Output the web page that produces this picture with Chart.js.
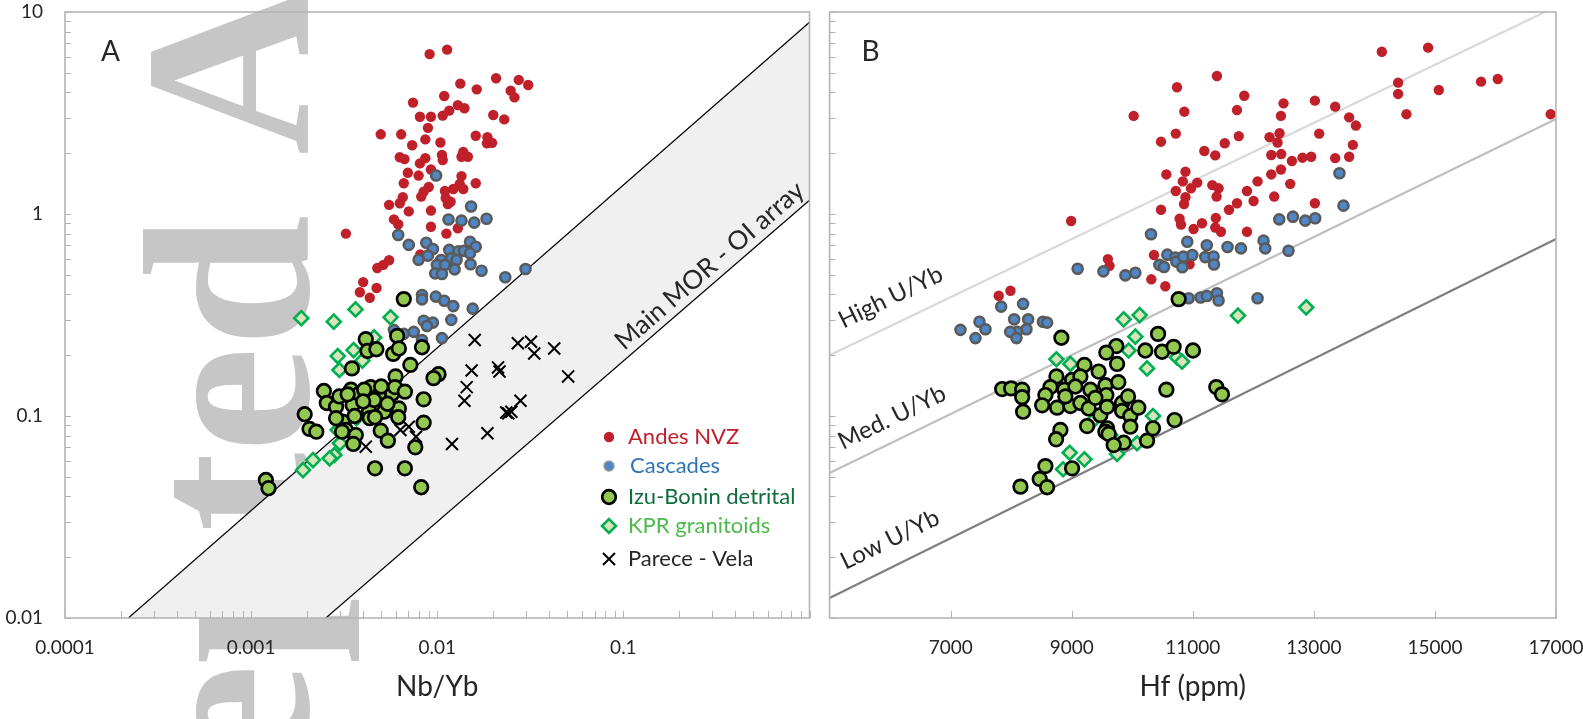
<!DOCTYPE html>
<html><head><meta charset="utf-8">
<script src="https://cdn.jsdelivr.net/npm/chart.js@4.4.1/dist/chart.umd.min.js"></script>
<style>
html,body{margin:0;padding:0;background:#fff;overflow:hidden;}
#wa{position:absolute;left:0;top:0;width:820px;height:719px;}
#wb{position:absolute;left:820px;top:0;width:763px;height:719px;}
</style></head><body>
<div id="wa"><canvas id="ca"></canvas></div>
<div id="wb"><canvas id="cb"></canvas></div>
<script>
// ---------------- DATA: panel A (Nb/Yb vs U/Yb) ----------------
const andesA = [[0.0091,6.19],[0.0113,6.51],[0.0133,4.42],[0.0163,4.14],[0.0207,4.70],[0.0274,4.61],[0.0308,4.35],[0.0248,4.08],[0.0260,3.78],[0.00741,3.56],[0.0109,3.84],[0.0129,3.46],[0.0140,3.34],[0.0116,3.25],[0.0107,3.07],[0.00807,3.03],[0.00925,3.03],[0.0200,3.09],[0.0229,2.94],[0.00891,2.67],[0.00497,2.48],[0.00640,2.48],[0.00863,2.34],[0.0104,2.26],[0.0161,2.44],[0.0186,2.40],[0.0197,2.25],[0.0185,2.24],[0.00733,2.19],[0.00629,1.91],[0.00667,1.87],[0.00863,1.89],[0.00807,1.78],[0.0106,1.96],[0.0107,1.85],[0.0138,2.03],[0.0135,1.92],[0.0146,1.92],[0.00925,1.66],[0.00695,1.60],[0.00794,1.55],[0.0135,1.54],[0.00661,1.42],[0.0090,1.36],[0.00845,1.29],[0.0082,1.22],[0.0110,1.30],[0.0122,1.33],[0.0132,1.41],[0.0138,1.33],[0.0161,1.42],[0.0111,1.20],[0.0118,1.15],[0.00653,1.21],[0.00629,1.13],[0.00551,1.11],[0.00703,1.03],[0.00925,1.04],[0.0114,1.12],[0.00585,0.94],[0.00617,0.89],[0.00925,0.865],[0.0129,0.85],[0.0112,0.80],[0.00323,0.80],[0.00551,0.59],[0.00513,0.56],[0.00476,0.54],[0.00400,0.46],[0.00472,0.43],[0.00384,0.41],[0.00434,0.385],[0.0081,0.63]];
const cascadesA = [[0.00986,1.55],[0.0152,1.09],[0.0115,0.94],[0.0135,0.927],[0.0158,0.906],[0.0184,0.948],[0.00617,0.787],[0.00703,0.703],[0.00873,0.721],[0.00948,0.671],[0.0116,0.664],[0.0130,0.654],[0.0139,0.657],[0.0150,0.729],[0.0161,0.689],[0.00891,0.622],[0.00794,0.594],[0.0105,0.592],[0.0119,0.604],[0.0127,0.592],[0.0150,0.639],[0.00995,0.560],[0.0110,0.560],[0.00975,0.508],[0.0106,0.505],[0.0124,0.532],[0.0151,0.564],[0.0173,0.524],[0.0232,0.486],[0.0298,0.534],[0.00828,0.397],[0.00828,0.378],[0.00982,0.390],[0.0109,0.372],[0.0122,0.350],[0.0155,0.340],[0.0119,0.299],[0.00845,0.296],[0.00948,0.290],[0.0088,0.279],[0.00748,0.261],[0.0106,0.243],[0.00661,0.255],[0.00585,0.267],[0.00828,0.238]];
const izuA = [[0.00661,0.379],[0.00609,0.249],[0.00413,0.240],[0.00422,0.210],[0.00471,0.214],[0.00580,0.203],[0.00622,0.216],[0.00828,0.219],[0.00348,0.172],[0.00717,0.179],[0.01016,0.161],[0.00955,0.154],[0.00597,0.157],[0.00246,0.133],[0.00255,0.116],[0.00286,0.111],[0.00298,0.125],[0.00344,0.135],[0.00381,0.129],[0.00439,0.139],[0.00487,0.127],[0.00573,0.129],[0.00593,0.139],[0.00670,0.132],[0.00845,0.121],[0.00351,0.113],[0.00430,0.106],[0.00518,0.105],[0.00622,0.109],[0.00194,0.102],[0.00206,0.0863],[0.00224,0.0836],[0.00310,0.0938],[0.00323,0.0853],[0.00308,0.0836],[0.00365,0.0805],[0.00434,0.0975],[0.00463,0.0986],[0.00497,0.0846],[0.00543,0.0755],[0.00617,0.0986],[0.00845,0.0927],[0.00354,0.0727],[0.00762,0.0700],[0.00463,0.0551],[0.00670,0.0551],[0.0082,0.0444],[0.00120,0.0482],[0.00124,0.0439],[0.00405,0.135],[0.00286,0.0975],[0.00458,0.120],[0.00330,0.128],[0.00400,0.118],[0.00540,0.115],[0.00500,0.140],[0.00360,0.100]];
const kprA = [[0.00186,0.305],[0.00278,0.293],[0.00364,0.337],[0.00561,0.308],[0.00458,0.245],[0.00292,0.198],[0.00355,0.212],[0.00298,0.169],[0.00396,0.188],[0.00368,0.0975],[0.00292,0.0853],[0.00300,0.0733],[0.00280,0.0641],[0.00264,0.0617],[0.00215,0.0605],[0.00190,0.0540]];
const pareceA = [[0.0159,0.238],[0.0271,0.229],[0.0319,0.233],[0.0332,0.204],[0.0425,0.216],[0.0153,0.168],[0.0212,0.174],[0.0216,0.166],[0.0505,0.157],[0.0144,0.139],[0.0140,0.119],[0.0280,0.119],[0.0235,0.104],[0.0250,0.105],[0.0241,0.103],[0.0186,0.0821],[0.0120,0.0727],[0.00703,0.0885],[0.00769,0.0790],[0.00413,0.0705],[0.00634,0.0853]];
const morUpper = [[0.000219,0.01],[1,8.9]];
const morLower = [[0.00252,0.01],[1,1.17]];
const xTicksA = [0.0001,0.001,0.01,0.1,1];
const xTickLabelsA = ['0.0001','0.001','0.01','0.1',''];
const yTicks = [0.01,0.1,1,10];
const yTickLabels = ['0.01','0.1','1','10'];

// ---------------- DATA: panel B (Hf vs U/Yb) ----------------
const andesB = [[11399,4.82],[10739,4.24],[10023,3.06],[10860,3.21],[10719,2.50],[10475,2.28],[11190,2.05],[11371,1.95],[11528,2.24],[11730,3.27],[11759,2.43],[11850,3.85],[10563,1.57],[10879,1.62],[10835,1.45],[11074,1.43],[10970,1.34],[10719,1.30],[10879,1.21],[10855,1.12],[11322,1.39],[11426,1.34],[11393,1.22],[10475,1.05],[11730,1.13],[11598,1.05],[10782,0.948],[10805,0.886],[11013,0.843],[11152,0.900],[11380,0.955],[11371,0.857],[11465,0.817],[8990,0.923],[9597,0.598],[9625,0.554],[10359,0.627],[10947,0.564],[10315,0.475],[10546,0.439],[7794,0.394],[7988,0.417],[14123,6.36],[14887,6.66],[12499,3.53],[12456,3.06],[13017,3.64],[13352,3.40],[14392,4.47],[14392,3.93],[15064,4.11],[15762,4.52],[16038,4.66],[14529,3.12],[16912,3.12],[13583,3.01],[13694,2.74],[13088,2.50],[12268,2.40],[12433,2.51],[12400,2.26],[13644,2.20],[12296,1.96],[12461,1.98],[12637,1.83],[12812,1.90],[12956,1.92],[13352,1.89],[13583,1.92],[12456,1.66],[12296,1.57],[12070,1.45],[12609,1.41],[11895,1.30],[12345,1.22],[12004,1.16],[13017,1.13],[11895,0.817]];
const cascadesB = [[10310,0.794],[10909,0.729],[11231,0.700],[10579,0.629],[10711,0.609],[10447,0.560],[10525,0.547],[10728,0.581],[10843,0.615],[10827,0.545],[10992,0.627],[11206,0.612],[11343,0.616],[11350,0.562],[11574,0.687],[11796,0.676],[12169,0.738],[12197,0.676],[12581,0.658],[9098,0.536],[9523,0.520],[9886,0.497],[10051,0.512],[10931,0.383],[11129,0.386],[11234,0.393],[11399,0.405],[11426,0.373],[12070,0.383],[13423,1.59],[13489,1.10],[12428,0.941],[12654,0.970],[12857,0.927],[13022,0.952],[7834,0.348],[8197,0.359],[7162,0.267],[7410,0.243],[7476,0.293],[7575,0.269],[8049,0.301],[8280,0.301],[8252,0.269],[8098,0.261],[7983,0.261],[8087,0.243],[8524,0.293],[8593,0.290]];
const izuB = [[10766,0.379],[8829,0.244],[10426,0.255],[9737,0.222],[9572,0.206],[9749,0.181],[10216,0.211],[10492,0.208],[10683,0.220],[11003,0.211],[9209,0.179],[9445,0.166],[8747,0.157],[9006,0.151],[9143,0.157],[7851,0.136],[7999,0.137],[8181,0.135],[8181,0.124],[8197,0.105],[8648,0.139],[8879,0.135],[9060,0.140],[9308,0.135],[9556,0.142],[9572,0.127],[8565,0.127],[8511,0.113],[8758,0.110],[8978,0.112],[9143,0.116],[9280,0.109],[9473,0.101],[9584,0.111],[9831,0.116],[9930,0.125],[9831,0.106],[9968,0.100],[9968,0.0885],[9254,0.0892],[9584,0.0869],[9556,0.0836],[9610,0.0815],[9858,0.0738],[9693,0.0718],[10244,0.0755],[10343,0.0869],[10700,0.0955],[10563,0.135],[11388,0.139],[11482,0.128],[8813,0.0853],[8742,0.0767],[9006,0.0551],[8565,0.0565],[8471,0.0488],[8593,0.0444],[8153,0.0447],[9391,0.123],[8895,0.125],[9770,0.147],[10100,0.110]];
const kprB = [[9858,0.301],[10122,0.316],[10051,0.247],[9940,0.211],[8747,0.191],[8978,0.181],[10244,0.172],[10739,0.195],[10822,0.186],[10343,0.100],[9363,0.0955],[8966,0.0658],[9209,0.0610],[8857,0.0545],[9749,0.0649],[10079,0.0733],[9638,0.0805],[11746,0.314],[12873,0.345]];
const highUYb = [[5000,0.2],[16818,10]];
const medUYb = [[5000,0.0522],[17000,2.95]];
const lowUYb = [[5000,0.01256],[17000,0.752]];
const xTicksB = [7000,9000,11000,13000,15000,17000];

const legendNames = ['Andes NVZ','Cascades','Izu-Bonin detrital','KPR granitoids','Parece - Vela'];

// ---------------- STYLES ----------------
const FONT = 'Lato, "Open Sans", sans-serif';
const TXT = '#262626';
const FRAME = '#b4b4b4';
const pts = a => a.map(p => ({x: p[0], y: p[1]}));
const S = {
  andes: {pointStyle:'circle', pointRadius:5.2, pointBackgroundColor:'#c0202a', pointBorderColor:'#c0202a', pointBorderWidth:0},
  casc: {pointStyle:'circle', pointRadius:5, pointBackgroundColor:'#4f86c6', pointBorderColor:'#5a5a5a', pointBorderWidth:2.6},
  izu: {pointStyle:'circle', pointRadius:6.8, pointBackgroundColor:'#92c850', pointBorderColor:'#000', pointBorderWidth:2.7},
  kpr: {pointStyle:'rectRot', pointRadius:7, pointBackgroundColor:'#d8e4bc', pointBorderColor:'#00b050', pointBorderWidth:2.6},
  parece: {pointStyle:'crossRot', pointRadius:8.5, pointBackgroundColor:'#000', pointBorderColor:'#000', pointBorderWidth:2}
};
function sds(label, data, st, order) {
  return Object.assign({label, data: pts(data), showLine:false, order, pointHoverRadius: st.pointRadius}, st);
}
function lds(label, data, color, width, order) {
  return {label, data: pts(data), showLine:true, borderColor:color, borderWidth:width, pointRadius:0, pointHoverRadius:0, fill:false, order};
}

// ---------------- helper drawing ----------------
function decadeVals(scale) {
  const v = [];
  const lo = Math.floor(Math.log10(scale.min)), hi = Math.ceil(Math.log10(scale.max));
  for (let e = lo; e <= hi; e++) for (let k = 1; k < 10; k++) {
    const val = k * Math.pow(10, e);
    if (val >= scale.min * 0.9999 && val <= scale.max * 1.0001) v.push(val);
  }
  return v;
}
function drawFrameTicks(chart, xs, ys) {
  const ctx = chart.ctx, a = chart.chartArea;
  ctx.save();
  ctx.strokeStyle = FRAME; ctx.lineWidth = 1;
  const xv = xs.type === 'logarithmic' ? decadeVals(xs) : xs.ticks.map(t => t.value);
  ctx.beginPath();
  xv.forEach(v => { const px = Math.round(xs.getPixelForValue(v)) + 0.5; ctx.moveTo(px, a.bottom); ctx.lineTo(px, a.bottom - 7); });
  decadeVals(ys).forEach(v => { const py = Math.round(ys.getPixelForValue(v)) + 0.5; ctx.moveTo(a.left, py); ctx.lineTo(a.left + 6, py); });
  ctx.stroke();
  ctx.lineWidth = 1.6;
  ctx.strokeRect(a.left, a.top, a.right - a.left, a.bottom - a.top);
  ctx.restore();
}
function rotText(ctx, text, x, y, deg, font, color) {
  ctx.save();
  ctx.translate(x, y); ctx.rotate(deg * Math.PI / 180);
  ctx.font = font; ctx.fillStyle = color; ctx.textAlign = 'left'; ctx.textBaseline = 'alphabetic';
  ctx.fillText(text, 0, 0);
  ctx.restore();
}
function marker(ctx, style, x, y) {
  ctx.save();
  ctx.beginPath();
  const r = style.pointRadius;
  if (style.pointStyle === 'circle') ctx.arc(x, y, r, 0, Math.PI * 2);
  else if (style.pointStyle === 'rectRot') { ctx.moveTo(x - r, y); ctx.lineTo(x, y - r); ctx.lineTo(x + r, y); ctx.lineTo(x, y + r); ctx.closePath(); }
  if (style.pointStyle === 'crossRot') {
    const d = r * Math.SQRT1_2;
    ctx.moveTo(x - d, y - d); ctx.lineTo(x + d, y + d); ctx.moveTo(x + d, y - d); ctx.lineTo(x - d, y + d);
  } else { ctx.fillStyle = style.pointBackgroundColor; ctx.fill(); }
  if (style.pointBorderWidth > 0) { ctx.lineWidth = style.pointBorderWidth; ctx.strokeStyle = style.pointBorderColor; ctx.stroke(); }
  ctx.restore();
}
const fitX = s => { s.height = 101; s.paddingLeft = 0; s.paddingRight = 0; };

// ---------------- Panel A ----------------
const tickFont = {family: FONT, size: 19};
const titleFont = {family: FONT, size: 28};

const pluginA = {
  id: 'decoA',
  beforeDatasetsDraw(chart) {
    // journal watermark, sits behind the band and the points
    const ctx = chart.ctx;
    ctx.save();
    ctx.translate(308, 1153); ctx.rotate(-Math.PI / 2);
    ctx.font = 'bold 238px "Liberation Serif", "DejaVu Serif", serif';
    ctx.fillStyle = '#c6c6c6'; ctx.textBaseline = 'alphabetic'; ctx.textAlign = 'left';
    ctx.fillText('Accepted Article', 0, 0);
    ctx.restore();
  },
  afterDatasetsDraw(chart) {
    const ctx = chart.ctx, a = chart.chartArea, xs = chart.scales.x, ys = chart.scales.y;
    drawFrameTicks(chart, xs, ys);
    rotText(ctx, 'A', a.left + 36, a.top + 49, 0, '28px ' + FONT, TXT);
    rotText(ctx, 'Main MOR - OI array', xs.getPixelForValue(0.1012), ys.getPixelForValue(0.2097), -41, '26px ' + FONT, TXT);
    // legend
    const styles = [S.andes, S.casc, S.izu, S.kpr, S.parece];
    const colors = ['#c0202a', '#2e75b6', '#0e6e3c', '#4cbb4c', TXT];
    const rows = [425, 454, 485, 514, 547];
    ctx.save();
    ctx.font = '22px ' + FONT; ctx.textBaseline = 'middle'; ctx.textAlign = 'left';
    legendNames.forEach((n, i) => {
      const st = i === 1 ? Object.assign({}, styles[i], {pointBorderColor: '#9a9a9a', pointBorderWidth: 1.5}) : styles[i];
      marker(ctx, st, a.left + 544, a.top + rows[i]);
      ctx.fillStyle = colors[i];
      ctx.fillText(n, a.left + 563 + (i === 1 ? 2 : 0), a.top + rows[i]);
    });
    ctx.restore();
  }
};

new Chart(document.getElementById('ca'), {
  type: 'scatter',
  data: {datasets: [
    sds('Parece - Vela', pareceA, S.parece, 1),
    sds('Izu-Bonin detrital', izuA, S.izu, 2),
    sds('KPR granitoids', kprA, S.kpr, 3),
    sds('Cascades', cascadesA, S.casc, 4),
    sds('Andes NVZ', andesA, S.andes, 5),
    lds('upper', morUpper, '#000', 1.2, 8),
    lds('lower', morLower, '#000', 1.2, 8),
    {label: 'band', data: pts([morUpper[0], morUpper[1], morLower[1], morLower[0]]), showLine: true, fill: 'shape',
     backgroundColor: '#f0f0f0', borderColor: 'rgba(0,0,0,0)', borderWidth: 1, pointRadius: 0, pointHoverRadius: 0, order: 10}
  ]},
  options: {
    responsive: true, maintainAspectRatio: false, animation: false,
    layout: {padding: {left: 0, right: 4, top: 12, bottom: 0}},
    plugins: {legend: {display: false}, tooltip: {enabled: false}},
    scales: {
      x: {type: 'logarithmic', min: 0.0001, max: 1,
          afterBuildTicks: s => { s.ticks = xTicksA.map(v => ({value: v})); },
          afterFit: fitX,
          ticks: {z: 1, autoSkip: false, maxRotation: 0, padding: 18, color: TXT, font: tickFont,
                  callback: v => { const i = xTicksA.findIndex(t => Math.abs(t - v) / t < 1e-6); return i >= 0 ? xTickLabelsA[i] : ''; }},
          grid: {display: false, drawTicks: false}, border: {display: false},
          title: {display: true, text: 'Nb/Yb', color: TXT, font: titleFont, padding: {top: 0, bottom: 15}}},
      y: {type: 'logarithmic', min: 0.01, max: 10,
          afterBuildTicks: s => { s.ticks = yTicks.map(v => ({value: v})); },
          afterFit: s => { s.width = 65; s.paddingTop = 0; s.paddingBottom = 0; },
          ticks: {autoSkip: false, padding: 22, color: TXT, font: tickFont,
                  callback: v => { const i = yTicks.findIndex(t => Math.abs(t - v) / t < 1e-6); return i >= 0 ? yTickLabels[i] : ''; }},
          grid: {display: false, drawTicks: false}, border: {display: false}}
    }
  },
  plugins: [pluginA]
});

// ---------------- Panel B ----------------
const pluginB = {
  id: 'decoB',
  afterDatasetsDraw(chart) {
    const ctx = chart.ctx, a = chart.chartArea, xs = chart.scales.x, ys = chart.scales.y;
    drawFrameTicks(chart, xs, ys);
    rotText(ctx, 'B', a.left + 32, a.top + 49, 0, '28px ' + FONT, TXT);
    const f = '24px ' + FONT;
    rotText(ctx, 'High U/Yb', xs.getPixelForValue(5231), ys.getPixelForValue(0.270), -26, f, TXT);
    rotText(ctx, 'Med. U/Yb', xs.getPixelForValue(5223), ys.getPixelForValue(0.0679), -26, f, TXT);
    rotText(ctx, 'Low U/Yb', xs.getPixelForValue(5264), ys.getPixelForValue(0.0173), -26, f, TXT);
  }
};

new Chart(document.getElementById('cb'), {
  type: 'scatter',
  data: {datasets: [
    sds('Parece - Vela', [], S.parece, 1),
    sds('Izu-Bonin detrital', izuB, S.izu, 2),
    sds('KPR granitoids', kprB, S.kpr, 3),
    sds('Cascades', cascadesB, S.casc, 4),
    sds('Andes NVZ', andesB, S.andes, 5),
    lds('High U/Yb', highUYb, '#d9d9d9', 2.2, 8),
    lds('Med. U/Yb', medUYb, '#bfbfbf', 2.2, 8),
    lds('Low U/Yb', lowUYb, '#7f7f7f', 2.2, 8)
  ]},
  options: {
    responsive: true, maintainAspectRatio: false, animation: false,
    layout: {padding: {left: 0, right: 27, top: 12, bottom: 0}},
    plugins: {legend: {display: false}, tooltip: {enabled: false}},
    scales: {
      x: {type: 'linear', min: 5000, max: 17000,
          afterBuildTicks: s => { s.ticks = xTicksB.map(v => ({value: v})); },
          afterFit: fitX,
          ticks: {autoSkip: false, maxRotation: 0, padding: 18, color: TXT, font: tickFont, callback: v => String(v)},
          grid: {display: false, drawTicks: false}, border: {display: false},
          title: {display: true, text: 'Hf (ppm)', color: TXT, font: titleFont, padding: {top: 0, bottom: 15}}},
      y: {type: 'logarithmic', min: 0.01, max: 10,
          afterBuildTicks: s => { s.ticks = yTicks.map(v => ({value: v})); },
          afterFit: s => { s.width = 9; s.paddingTop = 0; s.paddingBottom = 0; },
          ticks: {display: false},
          grid: {display: false, drawTicks: false}, border: {display: false}}
    }
  },
  plugins: [pluginB]
});
</script>
</body></html>
